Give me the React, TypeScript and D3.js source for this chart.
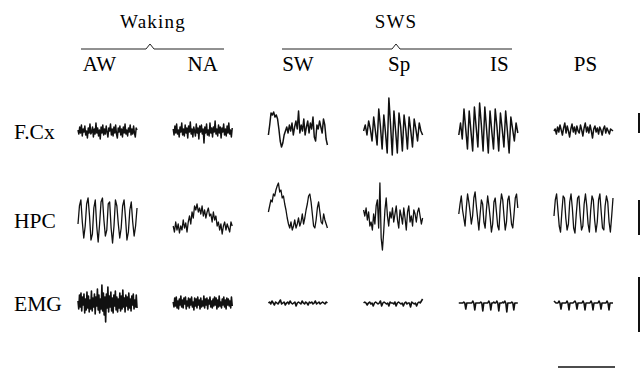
import React from "react";
import * as d3 from "d3";

// Stage names (columns) and recording sites (rows)
const stages = ["AW", "NA", "SW", "Sp", "IS", "PS"];
const sites = ["F.Cx", "HPC", "EMG"];

// Traces (arbitrary units, positive up)
const fcxAW = [1,-3,4,-2,6,-5,2,-1,5,-4,0,-7,3,-2,7,-3,-1,4,-6,2,-3,8,-2,3,-5,1,-8,4,-2,6,-4,2,-3,5,-1,-6,3,0,7,-4,2,-5,4,-2,6,-3,-7,3,-1,5,-4,2,-6,4,-2,7,-3,1,-5,3,-1,6,-4,2,-3,5,-2,-6,3,1];
const fcxNA = [2,-4,5,-2,7,-3,1,-6,4,-1,8,-4,2,-5,6,-2,3,-7,5,-1,9,-3,2,-6,4,0,-5,7,-2,3,-8,5,-1,6,-3,2,-12,4,-2,7,-4,1,-5,8,-2,3,-6,4,-1,10,-3,2,-5,6,-2,4,-7,3,-1,7,-4,2,-5,5,-2,8,-3,1,-6,3];
const fcxSW = [-4,6,18,16,19,14,16,12,2,-10,-16,-12,-4,0,4,-2,6,0,8,-4,4,10,2,20,-2,6,0,12,-4,4,10,-2,8,2,14,-6,-10,6,2,10,4,-2,12,6,-8,-14];
const fcxSp = [0,6,-4,10,2,-10,14,0,-14,22,4,-18,16,-2,-22,33,6,-24,20,0,-22,18,4,-20,16,2,-18,14,0,-16,12,2,-10,8,0,-4];
const fcxIS = [-4,8,-8,22,2,-18,20,0,-20,24,4,-16,28,6,-20,24,2,-22,20,0,-18,22,4,-20,18,2,-16,20,0,-22,14,2,-10,8,-2];
const fcxPS = [0,2,-3,4,-1,6,1,-4,3,8,-2,5,0,-6,2,7,-1,4,-3,5,0,-2,6,1,-5,3,8,-1,4,-2,6,0,-7,2,5,-1,3,-3,4,1,-4,2,5,-2,3,0,-3,2,1,0];

const hpcAW = [-4,14,20,-2,-18,-6,16,22,4,-20,-14,12,20,-6,-22,-4,18,22,0,-16,-10,16,18,-8,-23,-6,20,14,-4,-18,-8,14,20,2,-20,-12,10,18,-2,-16,-6,12];
const hpcNA = [-6,-12,-2,-10,-4,-13,-6,-10,0,-8,-3,-12,-2,4,-4,8,2,14,10,16,8,12,6,14,4,10,2,8,12,4,6,-2,8,0,4,-6,-2,-10,-4,-14,-6,-2,-10,-4,-8,-12,-2,-6];
const hpcSW = [8,14,20,18,26,24,30,34,37,28,30,22,24,16,10,2,-4,-8,-2,-10,-6,0,-8,-4,2,-6,-2,6,-4,2,10,16,24,26,18,6,-6,-8,0,12,18,8,-2,-4,6,0,-4,-8];
const hpcSp = [10,4,12,0,8,-6,-2,-10,6,-4,14,20,-8,37,-18,-30,-12,10,22,4,-6,8,2,12,-2,6,14,0,-8,10,4,-4,12,2,-10,8,14,-2,4,-6,10,6,-2,8,12,4,-4,2];
const hpcIS = [6,16,24,10,2,-6,12,26,18,8,-4,4,22,28,14,2,-10,6,20,16,-2,-8,10,24,14,2,-12,-4,18,22,8,-6,-10,14,26,20,4,-10,-2,20,24,10,-4,-8,6,22,26,12];
const hpcPS = [4,20,26,10,-6,-12,8,24,22,2,-10,-4,18,26,12,-8,-13,6,22,24,4,-10,-6,16,26,14,-4,-12,10,24,20,0,-12,-2,20,26,8,-8,-10,14,24,18,-2,-12,4,22];

const emgAW = [2,-6,8,-4,10,-8,6,-2,9,-10,4,-7,11,-5,7,-9,3,-6,12,-8,5,-4,9,-11,6,-3,14,-7,8,-10,4,-6,18,-8,10,-12,6,-19,9,-5,16,-9,7,-4,11,-8,5,-10,8,-3,12,-7,6,-9,4,-5,10,-8,7,-6,13,-4,5,-9,8,-3,6,-7,10,-5,4,-8,7,-2,9,-6,3,-4,8,-5];
const emgNA = [1,-4,5,-3,6,-5,2,-6,4,-2,7,-4,3,-5,5,-1,6,-6,2,-3,5,-5,4,-2,6,-4,1,-7,5,-3,4,-5,6,-2,3,-6,5,-4,2,-3,7,-5,4,-2,5,-6,3,-1,6,-4,2,-5,4,-3,6,-2,5,-6,3,-4,7,-3,1,-5,4,-2,6,-4,3,-6,5,-2,4,-3,2,-5,6,-3];
const emgSW = [0,1,-1,2,0,-2,1,0,-1,1,3,-1,0,1,-2,0,1,-1,2,0,-1,0,1,-3,0,1,0,-1,2,0,-1,1,0,-2,1,0,1,-1,0,2,-1,0,1,-1,0,1,0,-1,1,0];
const emgSp = [0,1,0,-2,0,1,-1,0,-3,0,1,0,-1,0,2,-3,0,1,0,-1,0,-3,1,0,0,-1,1,-3,0,1,0,-1,0,-3,0,1,-1,0,0,-4,1,0,-1,0,-3,0,1,0,2,4];
const emgIS = [0,0,0,0,0,1,0,-6,0,0,0,0,0,0,2,0,-7,0,0,0,0,0,1,0,-8,0,0,0,0,0,2,0,-7,0,0,1,0,0,2,0,-8,0,0,0,1,0,2,0,-9,0,0,0,0,1,0,-7,0,0,0,0];
const emgPS = [2,1,0,0,0,2,0,-6,0,0,0,0,0,2,0,-7,0,0,0,0,1,2,0,-6,0,0,0,0,0,2,0,-7,0,0,0,0,0,2,0,-7,0,0,0,0,0,2,0,-6,0,0,0,0,0,2,0,-7,0,0,0,0];

// Calibration bars: [top, bottom] in trace units, per site
const calFcx = [18, -2];
const calHpc = [20, -15];
const calEmg = [26, -29];

const traces = [
  [fcxAW, fcxNA, fcxSW, fcxSp, fcxIS, fcxPS],
  [hpcAW, hpcNA, hpcSW, hpcSp, hpcIS, hpcPS],
  [emgAW, emgNA, emgSW, emgSp, emgIS, emgPS],
];
const cals = [calFcx, calHpc, calEmg];

// Layout
const W = 642, H = 370;
const rowCenter = [131, 220, 303];
const labelDx = [-8, 0, 0, 6, 11, 2];
const widths = [1.5, 1.3, 1.6];
const font = "'Liberation Serif', 'Times New Roman', serif";

export default function App() {
  const x = d3.scaleBand().domain(stages).range([78, 613]).paddingInner(0.38);

  const yFor = (i: number) =>
    d3.scaleLinear().domain([-50, 50]).range([rowCenter[i] + 50, rowCenter[i] - 50]);

  const bracket = (x0: number, xm: number, x1: number, y: number) =>
    `M${x0},${y}H${xm - 4}L${xm},${y - 5}L${xm + 4},${y}H${x1}`;

  return (
    <svg
      width={W}
      height={H}
      style={{ position: "absolute", left: 0, top: 0, background: "#fff" }}
      fontFamily={font}
    >
      {/* Group headers */}
      <text x={153} y={28} fontSize={19} textAnchor="middle" letterSpacing={1.2}>Waking</text>
      <text x={396} y={28} fontSize={19} textAnchor="middle" letterSpacing={1.2}>SWS</text>
      <path d={bracket(81, 150, 224, 49)} fill="none" stroke="#222" strokeWidth={1} />
      <path d={bracket(282, 396, 512, 49)} fill="none" stroke="#222" strokeWidth={1} />

      {/* Stage labels */}
      {stages.map((s, i) => (
        <text
          key={s}
          x={(x(s) as number) + x.bandwidth() / 2 + labelDx[i]}
          y={71}
          fontSize={21}
          textAnchor="middle"
        >
          {s}
        </text>
      ))}

      {/* Site labels */}
      {sites.map((s, i) => (
        <text key={s} x={14} y={rowCenter[i] + 8} fontSize={21.5}>
          {s}
        </text>
      ))}

      {/* Traces */}
      {traces.map((row, ri) => {
        const y = yFor(ri);
        return row.map((vals, ci) => {
          const x0 = x(stages[ci]) as number;
          const xi = d3.scaleLinear().domain([0, vals.length - 1]).range([x0, x0 + x.bandwidth()]);
          const line = d3.line<number>().x((d, i) => xi(i)).y((d) => y(d));
          return (
            <path
              key={ri + "-" + ci}
              d={line(vals) || ""}
              fill="none"
              stroke="#111"
              strokeWidth={widths[ri]}
              strokeLinejoin="round"
            />
          );
        });
      })}

      {/* Vertical calibration bars */}
      {cals.map((c, i) => {
        const y = yFor(i);
        return (
          <line key={i} x1={639} x2={639} y1={y(c[0])} y2={y(c[1])} stroke="#111" strokeWidth={2} />
        );
      })}

      {/* Time bar */}
      <line x1={558} x2={615} y1={367} y2={367} stroke="#111" strokeWidth={1.5} />
    </svg>
  );
}
